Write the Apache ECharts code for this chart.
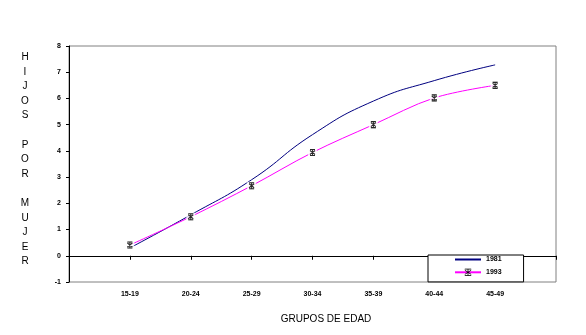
<!DOCTYPE html>
<html>
<head>
<meta charset="utf-8">
<script src="https://cdn.jsdelivr.net/npm/echarts@6/dist/echarts.min.js"></script>
<style>
html,body{margin:0;padding:0;background:#fff;}
#chart{width:586px;height:335px;}
</style>
</head>
<body>
<div id="chart"></div>
<script>
var categories = ['15-19', '20-24', '25-29', '30-34', '35-39', '40-44', '45-49'];
var values1981 = [0.30, 1.56, 2.90, 4.62, 5.90, 6.68, 7.28];
var values1993 = [0.41, 1.49, 2.67, 3.94, 5.00, 6.02, 6.50];
var yTicks = [-1, 0, 1, 2, 3, 4, 5, 6, 7, 8];

var axisCats = [''].concat(categories).concat(['']);
function pad(arr) { return [null].concat(arr).concat([null]); }

var FONT = '"Liberation Sans", Arial, sans-serif';
var star = 'path://M1,0L9,0M5,0L5,12M1,12L9,12M1,2L9,10M9,2L1,10';

var chart = echarts.init(document.getElementById('chart'), null, {renderer: 'canvas'});
chart.setOption({
  animation: false,
  backgroundColor: '#fff',
  grid: {left: 69, right: 30, top: 46, bottom: 53, show: true, borderColor: '#808080', borderWidth: 1, backgroundColor: 'transparent'},
  legend: {
    data: [
      {name: '1981', itemStyle: {opacity: 0, color: 'transparent', borderWidth: 0}},
      {name: '1993', itemStyle: {color: 'transparent', borderColor: '#000', borderWidth: 0.8}}
    ],
    orient: 'vertical',
    left: 428, top: 255,
    borderColor: '#000', borderWidth: 1,
    backgroundColor: '#fff',
    padding: [1, 22, 6, 26],
    itemWidth: 26, itemHeight: 8, itemGap: 5.7,
    textStyle: {fontSize: 7, fontFamily: FONT, color: '#000', fontWeight: 'bold'},
    selectedMode: false,
    z: 10
  },
  xAxis: {
    type: 'category',
    data: axisCats,
    boundaryGap: false,
    name: 'GRUPOS DE EDAD',
    nameLocation: 'middle',
    nameGap: 32,
    nameTextStyle: {fontSize: 10, fontFamily: FONT, color: '#000', padding: [0, 0, 0, 27]},
    axisLine: {lineStyle: {color: '#000', width: 1}},
    axisTick: {length: 4, lineStyle: {color: '#000'}, interval: 0},
    axisLabel: {fontSize: 7, fontFamily: FONT, color: '#000', fontWeight: 'bold', margin: 9, interval: 0},
    splitLine: {show: false}
  },
  yAxis: {
    type: 'value',
    min: yTicks[0], max: yTicks[yTicks.length - 1], interval: 1,
    name: 'H\nI\nJ\nO\nS\n\nP\nO\nR\n\nM\nU\nJ\nE\nR\n{e| }',
    nameLocation: 'middle',
    nameRotate: 0,
    nameGap: 44,
    nameTextStyle: {fontSize: 10, fontFamily: FONT, color: '#000', lineHeight: 14.6, align: 'center', verticalAlign: 'middle',
      rich: {e: {fontSize: 4, lineHeight: 9}}},
    axisLine: {show: true, lineStyle: {color: '#000', width: 1}},
    axisTick: {show: true, length: 3, lineStyle: {color: '#000'}},
    axisLabel: {fontSize: 7, fontFamily: FONT, color: '#000', fontWeight: 'bold', margin: 8},
    splitLine: {show: false}
  },
  series: [
    {
      name: '1981', type: 'line', data: pad(values1981), smooth: 0.5,
      symbol: 'none', lineStyle: {color: '#000080', width: 1}, itemStyle: {color: '#000080'}, z: 2
    },
    {
      name: '1993', type: 'line', data: pad(values1993), smooth: 0.35,
      symbol: star, symbolSize: [5, 6], showSymbol: true,
      lineStyle: {color: '#FF00FF', width: 1},
      itemStyle: {color: 'transparent', borderColor: '#000', borderWidth: 1}, z: 2
    },
    {
      name: 'gap', type: 'scatter', data: pad(values1993), symbol: 'rect', symbolSize: [9, 8],
      itemStyle: {color: '#fff', borderWidth: 0}, z: 3, silent: true
    },
    {
      name: 'marks', type: 'scatter', data: pad(values1993), symbol: star, symbolSize: [5, 6],
      itemStyle: {color: 'transparent', borderColor: '#000', borderWidth: 1}, z: 4, silent: true
    }
  ]
});
</script>
</body>
</html>
